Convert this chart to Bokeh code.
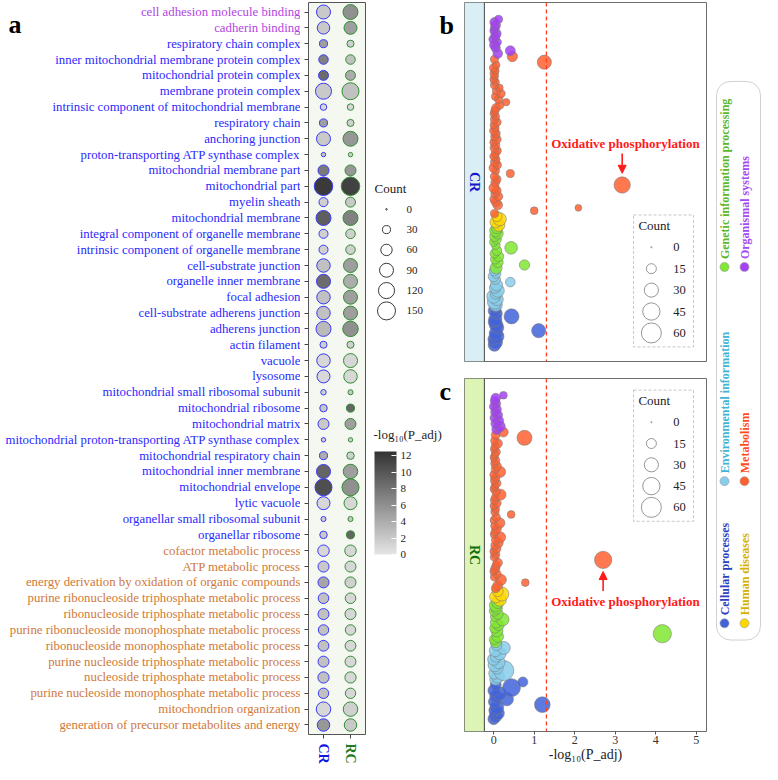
import math
from bokeh.plotting import figure
from bokeh.layouts import row, column
from bokeh.models import (ColumnDataSource, Range1d, FixedTicker, Span, Label,
                          BoxAnnotation, Arrow, NormalHead, ColorBar, LinearColorMapper)
from bokeh.transform import transform
from bokeh.core.properties import value
from bokeh.embed import file_html
from bokeh.resources import INLINE

SERIF = "Liberation Serif"

# ---------------- panel a : GO enrichment ----------------
go_terms = [
    "cell adhesion molecule binding", "cadherin binding", "respiratory chain complex",
    "inner mitochondrial membrane protein complex", "mitochondrial protein complex",
    "membrane protein complex", "intrinsic component of mitochondrial membrane",
    "respiratory chain", "anchoring junction", "proton-transporting ATP synthase complex",
    "mitochondrial membrane part", "mitochondrial part", "myelin sheath",
    "mitochondrial membrane", "integral component of organelle membrane",
    "intrinsic component of organelle membrane", "cell-substrate junction",
    "organelle inner membrane", "focal adhesion", "cell-substrate adherens junction",
    "adherens junction", "actin filament", "vacuole", "lysosome",
    "mitochondrial small ribosomal subunit", "mitochondrial ribosome", "mitochondrial matrix",
    "mitochondrial proton-transporting ATP synthase complex", "mitochondrial respiratory chain",
    "mitochondrial inner membrane", "mitochondrial envelope", "lytic vacuole",
    "organellar small ribosomal subunit", "organellar ribosome",
    "cofactor metabolic process", "ATP metabolic process",
    "energy derivation by oxidation of organic compounds",
    "purine ribonucleoside triphosphate metabolic process",
    "ribonucleoside triphosphate metabolic process",
    "purine ribonucleoside monophosphate metabolic process",
    "ribonucleoside monophosphate metabolic process",
    "purine nucleoside triphosphate metabolic process",
    "nucleoside triphosphate metabolic process",
    "purine nucleoside monophosphate metabolic process",
    "mitochondrion organization", "generation of precursor metabolites and energy"]
go_ontology = ["MF", "CC", "BP"]
go_ontology_sizes = [2, 32, 12]
go_ontology_colors = {"MF": "#B444E4", "CC": "#2A2AFF", "BP": "#D07838"}

go_groups = ["CR", "RC"]
cr_count_a = [91, 72, 30, 42, 46, 119, 20, 30, 91, 9, 56, 158, 38, 104, 38, 38, 84, 91, 84, 84,
              104, 23, 84, 78, 14, 26, 56, 9, 30, 91, 134, 78, 12, 26, 61, 56, 56, 52, 56, 50,
              54, 55, 58, 50, 97, 72]
cr_logp_a = [2, 2, 5, 7, 8.5, 2, 1, 5, 2, 2, 7.5, 12, 1.5, 9.5, 1.5, 1.5, 2.5, 8.5, 2.5, 2.5,
             3, 1.5, 1, 1, 1.5, 2, 2, 1.5, 4, 9, 10.5, 1, 1.5, 2, 1, 2, 4.5, 2.5, 2.5, 2.5,
             2.5, 2.5, 2.5, 2.5, 1, 5.5]
rc_count_a = [104, 78, 23, 42, 46, 134, 20, 23, 104, 9, 56, 158, 46, 104, 42, 42, 91, 91, 91, 91,
              111, 23, 91, 84, 12, 30, 56, 9, 26, 97, 134, 78, 12, 30, 61, 56, 56, 52, 56, 50,
              54, 55, 58, 50, 97, 72]
rc_logp_a = [6, 5, 1.5, 2.5, 4, 2.5, 1, 1.5, 5.5, 1.5, 5.5, 11.5, 2, 7, 1.5, 1.5, 5, 4, 5, 5,
             6, 1.5, 1, 1, 2, 9, 5, 1.5, 1.5, 5, 6, 1, 2, 9, 1, 1, 1.5, 1, 1, 1,
             1, 1, 1, 1, 1.5, 2]
count_legend_a = [0, 30, 60, 90, 120, 150]
logp_ticks = [0, 2, 4, 6, 8, 10, 12]

# ---------------- panels b, c : KEGG enrichment ----------------
kegg_classes = ["Cellular processes", "Environmental information", "Genetic information processing",
                "Human diseases", "Metabolism", "Organismal systems"]
kegg_class_sizes = [14, 13, 15, 4, 56, 13]
kegg_point_colors = ["#4163DB", "#87CEEB", "#80E830", "#FFD700", "#FF6030", "#A540F5"]
kegg_text_colors = ["#2B3FBF", "#3DB5D5", "#5CB82A", "#D4B000", "#FF4D1F", "#A448F0"]
key_order = [0, 3, 1, 4, 2, 5]   # legend read as 2 rows x 3 columns
oxphos_index = 56  # "Oxidative phosphorylation"

cr_x = (
    [0.02, 0.05, 0.00, 0.08, 0.05, 1.11, 0.10, 0.06, 0.00, 0.04, 0.44, 0.07, 0.02, 0.05] +
    [0.05, 0.02, 0.08, 0.00, 0.06, 0.10, 0.03, 0.07, 0.41, 0.04, 0.00, 0.06, 0.02] +
    [0.06, 0.76, 0.10, 0.04, 0.12, 0.02, 0.08, 0.43, 0.05, 0.00, 0.07, 0.03, 0.10, 0.05, 0.08] +
    [0.12, 0.05, 0.15, 0.08] +
    [0.02, 1.00, 2.09, 0.10, 0.05, 0.00, 0.12, 0.03, 0.07, 0.01,
     3.17, 0.04, 0.08, 0.02, 0.41, 0.05, 0.00, 0.09, 0.03, 0.06,
     0.01, 0.04, 0.10, 0.02, 0.05, 0.00, 0.07, 0.03, 0.06, 0.01,
     0.04, 0.00, 0.08, 0.02, 0.05, 0.00, 0.03, 0.06, 0.15, 0.31,
     0.12, 0.04, 0.18, 0.07, 0.14, 0.02, 0.05, 0.00, 0.03, 0.01,
     0.04, 0.00, 0.06, 1.25, 0.02, 0.46] +
    [0.10, 0.41, 0.05, 0.02, 0.08, 0.00, 0.04, 0.06, 0.01, 0.03, 0.05, 0.02, 0.12])
cr_n = (
    [24, 28, 20, 30, 26, 30, 22, 28, 18, 26, 34, 20, 24, 16] +
    [26, 30, 24, 28, 20, 26, 18, 22, 14, 16, 18, 14, 16] +
    [22, 16, 18, 14, 16, 12, 14, 24, 12, 10, 14, 16, 18, 22, 20] +
    [24, 20, 26, 16] +
    [10, 9, 7, 14, 12, 9, 11, 10, 13, 16,
     40, 12, 10, 11, 10, 9, 13, 10, 12, 9,
     11, 10, 8, 12, 10, 9, 13, 11, 10, 12,
     9, 8, 11, 10, 9, 8, 10, 12, 10, 8,
     11, 9, 11, 10, 9, 10, 8, 9, 8, 10,
     9, 11, 9, 30, 10, 16] +
    [14, 15, 13, 15, 12, 14, 13, 15, 11, 12, 14, 13, 10])
rc_x = (
    [0.00, 0.05, 0.10, 0.03, 0.08, 1.20, 0.02, 0.32, 0.06, 0.15, 0.00, 0.44, 0.05, 0.72] +
    [0.05, 0.10, 0.02, 0.25, 0.08, 0.03, 0.12, 0.00, 0.06, 0.15, 0.04, 0.25, 0.07] +
    [0.05, 0.02, 0.10, 4.16, 0.08, 0.03, 0.12, 0.06, 0.22, 0.04, 0.10, 0.02, 0.07, 0.05, 0.10] +
    [0.15, 0.05, 0.20, 0.10] +
    [0.05, 0.10, 0.78, 0.18, 0.02, 0.08, 0.00, 0.04, 0.06, 0.10,
     2.70, 0.02, 0.05, 0.00, 0.07, 0.03, 0.12, 0.05, 0.16, 0.01,
     0.04, 0.08, 0.02, 0.15, 0.00, 0.06, 0.43, 0.03, 0.05, 0.00,
     0.08, 0.02, 0.04, 0.17, 0.06, 0.00, 0.03, 0.07, 0.02, 0.05,
     0.00, 0.16, 0.04, 0.08, 0.02, 0.05, 0.00, 0.03, 0.06, 0.01,
     0.04, 0.10, 0.02, 0.76, 0.05, 0.24] +
    [0.08, 0.15, 0.05, 0.12, 0.02, 0.10, 0.04, 0.07, 0.00, 0.06, 0.03, 0.05, 0.24])
rc_n = (
    [20, 24, 26, 22, 28, 37, 22, 28, 24, 26, 20, 48, 18, 15] +
    [22, 26, 20, 60, 24, 28, 26, 22, 20, 24, 22, 25, 18] +
    [18, 16, 20, 50, 22, 16, 18, 20, 25, 14, 18, 16, 20, 24, 22] +
    [26, 22, 30, 18] +
    [12, 14, 9, 18, 10, 11, 9, 12, 10, 13,
     45, 11, 10, 9, 12, 10, 13, 11, 18, 9,
     10, 12, 9, 16, 8, 11, 9, 10, 9, 8,
     11, 10, 9, 18, 11, 8, 9, 12, 10, 11,
     9, 18, 10, 12, 9, 10, 8, 9, 11, 8,
     10, 13, 9, 34, 12, 14] +
    [16, 18, 14, 16, 12, 14, 13, 14, 11, 12, 13, 14, 9])
count_legend_bc = [0, 15, 30, 45, 60]
p_threshold = 0.05
kegg_ticks = [0, 1, 2, 3, 4, 5]


# ---------------- helpers ----------------
def size_a(c):
    return max(1.5, 18.0 * math.sqrt(c / 150.0))


def size_bc(c):
    return max(1.2, 20.0 * math.sqrt(c / 60.0))


def gray_palette(n=256, lo=0xE5, hi=0x33):
    out = []
    for i in range(n):
        v = round(lo + (hi - lo) * i / (n - 1))
        out.append("#%02x%02x%02x" % (v, v, v))
    return out


gray_mapper = LinearColorMapper(palette=gray_palette(), low=0, high=12.5)
COMMON = dict(toolbar_location=None, output_backend="svg")

# ================= panel a =================
n_go = len(go_terms)
ypos = [n_go - i for i in range(n_go)]
ont_of_row = []
for o, k in zip(go_ontology, go_ontology_sizes):
    ont_of_row += [o] * k
yA = Range1d(0.4, n_go + 0.6)
FRAME_A_H = 732

figALab = figure(width=300, height=742, x_range=Range1d(0, 300), y_range=yA,
                 x_axis_type=None, y_axis_type=None, min_border_left=0, min_border_right=0,
                 min_border_top=2, min_border_bottom=8, outline_line_color=None, **COMMON)
lab_src = ColumnDataSource(dict(x=[300] * n_go, y=ypos, text=go_terms,
                                color=[go_ontology_colors[o] for o in ont_of_row]))
figALab.text(x="x", y="y", text="text", text_color="color", source=lab_src,
             text_align="right", text_baseline="middle",
             text_font=value(SERIF), text_font_size="12.8px")
a_y = yA.end - 21.5 / (FRAME_A_H / (yA.end - yA.start))
figALab.text(x=[8], y=[a_y], text=["a"], text_font=value(SERIF), text_font_style="bold",
             text_font_size="26px", text_baseline="alphabetic", text_align="left", text_color="black")

x_a = Range1d(1 - 15 / 27, 2 + 15 / 27)
figADots = figure(width=69, height=742, x_range=x_a, y_range=yA,
                  min_border_left=8, min_border_right=4, min_border_top=2, min_border_bottom=8,
                  background_fill_color="#F5F8F1", outline_line_color="#555555", **COMMON)
figADots.grid.grid_line_color = None
for ax, ticks in ((figADots.yaxis[0], ypos), (figADots.xaxis[0], [1, 2])):
    ax.ticker = FixedTicker(ticks=ticks)
    ax.major_label_overrides = {t: "" for t in ticks}
    ax.major_label_standoff = 0
    ax.major_tick_out = 4
    ax.major_tick_in = 0
    ax.minor_tick_line_color = None
    ax.axis_line_color = None
    ax.major_tick_line_color = "#444444"

src_cr = ColumnDataSource(dict(x=[1] * n_go, y=ypos, size=[size_a(c) for c in cr_count_a], logp=cr_logp_a))
src_rc = ColumnDataSource(dict(x=[2] * n_go, y=ypos, size=[size_a(c) for c in rc_count_a], logp=rc_logp_a))
figADots.scatter(x="x", y="y", size="size", source=src_cr, marker="circle",
                 fill_color=transform("logp", gray_mapper), line_color="#3A3AF5", line_width=1)
figADots.scatter(x="x", y="y", size="size", source=src_rc, marker="circle",
                 fill_color=transform("logp", gray_mapper), line_color="#2F8F2F", line_width=1)

figAX = figure(width=69, height=22, x_range=x_a, y_range=Range1d(0, 22),
               x_axis_type=None, y_axis_type=None, min_border_left=8, min_border_right=4,
               min_border_top=0, min_border_bottom=0, outline_line_color=None, **COMMON)
figAX.text(x=[1, 2], y=[21, 21], text=go_groups, text_color=["#1515E0", "#1E7A1E"],
           angle=-math.pi / 2, text_align="left", text_baseline="middle",
           text_font=value(SERIF), text_font_style="bold", text_font_size="14px")

# ================= legends for panel a + letters b/c =================
figLeg = figure(width=93, height=764, x_range=Range1d(0, 93), y_range=Range1d(764, 0),
                x_axis_type=None, y_axis_type=None, min_border=0, outline_line_color=None, **COMMON)
figLeg.text(x=[5], y=[188], text=["Count"], text_font=value(SERIF), text_font_size="13px",
            text_baseline="middle", text_color="#222222")
leg_y = [209.5 + 20.6 * i for i in range(len(count_legend_a))]
figLeg.scatter(x=[17] * len(count_legend_a), y=leg_y, size=[size_a(c) for c in count_legend_a],
               marker="circle", fill_color="white", line_color="#222222", line_width=0.9)
figLeg.text(x=[37] * len(count_legend_a), y=leg_y, text=[str(c) for c in count_legend_a],
            text_font=value(SERIF), text_font_size="11px", text_baseline="middle", text_color="#222222")
figLeg.text(x=[4], y=[438], text=["-log\u2081\u2080(P_adj)"], text_font=value(SERIF),
            text_font_size="13px", text_baseline="middle", text_color="#222222")
cb = ColorBar(color_mapper=gray_mapper, location=(5, 202), width=22, height=103, padding=0, margin=0,
              ticker=FixedTicker(ticks=logp_ticks), major_label_text_font=SERIF,
              major_label_text_font_size="11px", major_label_text_color="#222222",
              major_tick_line_color="white", major_tick_in=5, major_tick_out=0, label_standoff=4,
              bar_line_color=None, border_line_color=None, background_fill_alpha=0)
figLeg.add_layout(cb)
figLeg.text(x=[70, 70], y=[23.5, 394], text=["b", "c"], text_font=value(SERIF),
            text_font_style="bold", text_font_size="26px", text_baseline="alphabetic", text_color="black")

# ================= panels b and c =================
x_kegg = Range1d(-0.72, 5.25)
STRIP_EDGE = -0.23
kegg_idx = list(range(sum(kegg_class_sizes)))
kegg_cls = []
for ci, k in enumerate(kegg_class_sizes):
    kegg_cls += [ci] * k


def make_kegg(xs, ns, y_range, height, top, strip_text, strip_fill, strip_color, with_axis,
              leg_top, arrow_up):
    kw = dict(width=248, height=height, x_range=x_kegg, y_range=y_range, y_axis_type=None,
              min_border_left=2, min_border_right=4, min_border_top=top,
              min_border_bottom=0 if with_axis else 1,
              outline_line_color="#6b6b6b", background_fill_color="white", **COMMON)
    if not with_axis:
        kw["x_axis_type"] = None
    p = figure(**kw)
    p.grid.grid_line_color = None
    p.add_layout(BoxAnnotation(right=STRIP_EDGE, fill_color=strip_fill, fill_alpha=1,
                               line_alpha=0, level="underlay"))
    p.add_layout(Span(location=STRIP_EDGE, dimension="height", line_color="#444444", line_width=1))
    p.add_layout(Label(x=(x_kegg.start + STRIP_EDGE) / 2, y=(y_range.start + y_range.end) / 2,
                       text=strip_text, angle=-math.pi / 2, text_align="center", text_baseline="middle",
                       text_font=SERIF, text_font_style="bold", text_font_size="14px",
                       text_color=strip_color))
    p.add_layout(Span(location=-math.log10(p_threshold), dimension="height", line_color="#FF4020",
                      line_width=1.3, line_dash="4 3"))
    src = ColumnDataSource(dict(x=xs, y=kegg_idx, size=[size_bc(c) for c in ns],
                                color=[kegg_point_colors[c] for c in kegg_cls]))
    p.scatter(x="x", y="y", size="size", color="color", source=src, marker="circle",
              fill_alpha=0.85, line_color="#7a7a7a", line_alpha=0.7, line_width=0.8)
    # count legend
    p.add_layout(BoxAnnotation(left=3.45, right=4.93, top=leg_top, bottom=leg_top - 46.2,
                               fill_color="white", fill_alpha=1, line_color="#444444",
                               line_dash="3 2", line_width=1, level="underlay"))
    p.text(x=[3.57], y=[leg_top - 3.7], text=["Count"], text_font=value(SERIF), text_font_size="13px",
           text_baseline="middle", text_color="#222222")
    ly = [leg_top - 11.3 - 7.5 * i for i in range(len(count_legend_bc))]
    p.scatter(x=[3.89] * len(ly), y=ly, size=[size_bc(c) for c in count_legend_bc], marker="circle",
              fill_color="white", line_color="#8a8a8a", line_width=0.9)
    p.text(x=[4.43] * len(ly), y=ly, text=[str(c) for c in count_legend_bc], text_font=value(SERIF),
           text_font_size="12.5px", text_baseline="middle", text_color="#222222")
    # oxidative phosphorylation annotation
    ox, oy = xs[oxphos_index], oxphos_index
    sgn = -1 if arrow_up else 1
    p.add_layout(Arrow(x_start=ox, y_start=oy + sgn * 11, x_end=ox, y_end=oy + sgn * 4.1,
                       line_color="#FF1A1A", line_width=1.6,
                       end=NormalHead(size=8, fill_color="#FF1A1A", line_color="#FF1A1A")))
    p.text(x=[3.25], y=[oy + sgn * 14.7], text=["Oxidative phosphorylation"], text_font=value(SERIF),
           text_font_style="bold", text_font_size="13px", text_align="center", text_baseline="middle",
           text_color="#FF1A1A")
    if with_axis:
        ax = p.xaxis[0]
        ax.ticker = FixedTicker(ticks=kegg_ticks)
        ax.axis_line_color = None
        ax.major_tick_line_color = "#555555"
        ax.minor_tick_line_color = None
        ax.major_tick_out = 3
        ax.major_tick_in = 0
        ax.major_label_standoff = 1
        ax.major_label_text_font = SERIF
        ax.major_label_text_font_size = "12px"
        ax.major_label_text_color = "#333333"
        ax.axis_label = "-log\u2081\u2080(P_adj)"
        ax.axis_label_text_font = SERIF
        ax.axis_label_text_font_style = "normal"
        ax.axis_label_text_font_size = "14px"
        ax.axis_label_standoff = 0
        ax.axis_label_text_color = "#222222"
    return p


figB = make_kegg(cr_x, cr_n, Range1d(-5.8, 119.9), 362, 2, "CR", "#DAEEF6", "#1515C8", False,
                 45.5, False)
figC = make_kegg(rc_x, rc_n, Range1d(-4.45, 119.9), 402, 16, "RC", "#DCF5B4", "#0E6E0E", True,
                 115.8, True)

# ================= category key =================
figKey = figure(width=52, height=764, x_range=Range1d(0, 52), y_range=Range1d(764, 0),
                x_axis_type=None, y_axis_type=None, min_border=0, outline_line_color=None, **COMMON)
figKey.add_layout(BoxAnnotation(left=6, right=50, top=80, bottom=646, border_radius=14,
                                fill_alpha=0, line_color="#666666", line_width=1))
key_x = [14, 34, 14, 34, 14, 34]
key_y = [629, 629, 485, 485, 268, 268]
figKey.scatter(x=key_x, y=key_y, size=9, marker="circle",
               fill_color=[kegg_point_colors[i] for i in key_order],
               line_color="#9a9a9a", line_width=0.6)
figKey.text(x=key_x, y=[v - 8 for v in key_y], text=[kegg_classes[i] for i in key_order],
            text_color=[kegg_text_colors[i] for i in key_order],
            angle=math.pi / 2, text_align="left", text_baseline="middle",
            text_font=value(SERIF), text_font_style="bold", text_font_size="12px")

layout = row(figALab, column(figADots, figAX), figLeg, column(figB, figC), figKey)
open("out.html", "w").write(file_html(layout, INLINE))
